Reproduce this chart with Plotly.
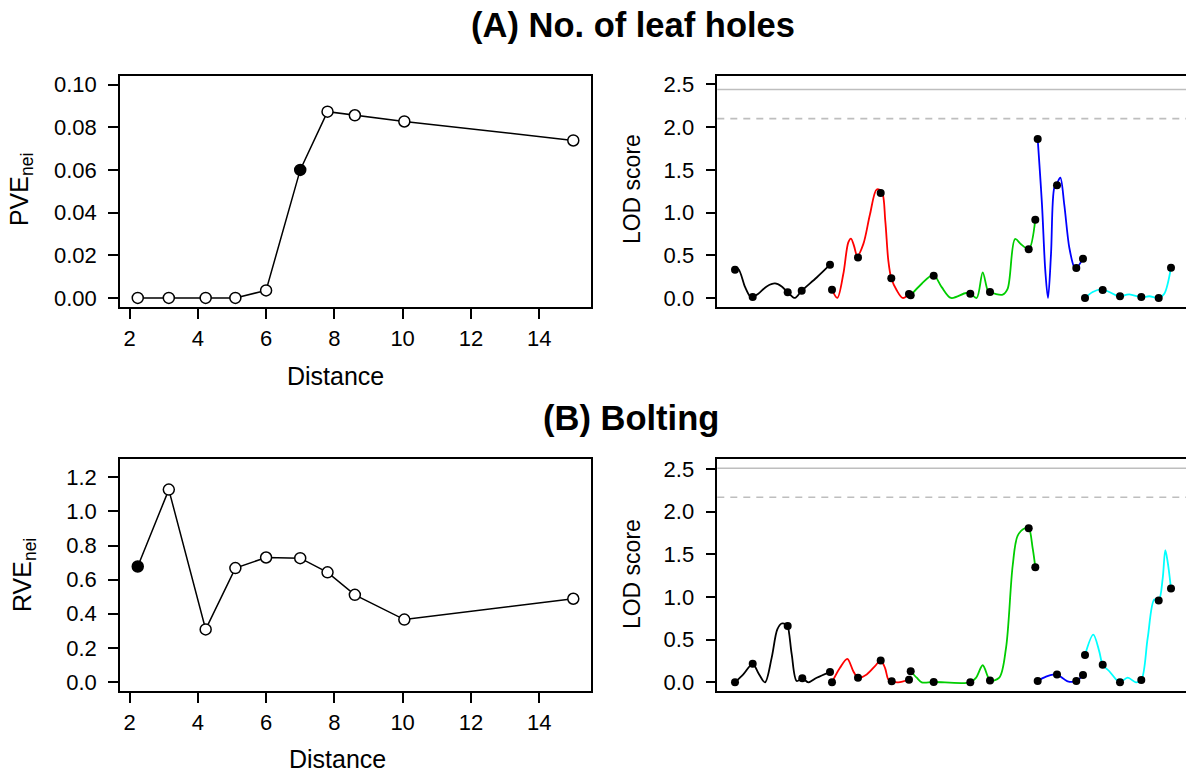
import plotly.graph_objects as go

# ---------------- data ----------------
# Panel A left: PVE_nei vs distance
dist_a = [2.24, 3.15, 4.23, 5.10, 6.00, 7.00, 7.80, 8.60, 10.05, 15.00]
pve_a = [0.0, 0.0, 0.0, 0.0, 0.0035, 0.060, 0.0873, 0.0856, 0.0827, 0.0738]
sel_a = 5  # index of highlighted (filled) point

# Panel B left: RVE_nei vs distance
dist_b = [2.24, 3.15, 4.23, 5.10, 6.00, 7.00, 7.80, 8.60, 10.05, 15.00]
rve_b = [0.677, 1.128, 0.308, 0.668, 0.730, 0.726, 0.643, 0.511, 0.366, 0.488]
sel_b = 0

chrom_colors = ["#000000", "#FF0000", "#00CD00", "#0000FF", "#00FFFF"]

# Panel A right: LOD profile per chromosome (positions along genome, LOD)
a_curve_pos = [
    [18, 21.3, 28, 33, 35.7, 41.3, 49.7, 58, 64.7, 70.7, 78, 84.7, 99.7, 113],
    [115, 120.3, 126.3, 131.3, 134, 137, 140.3, 146.3, 153, 159.7, 164.7, 168.3, 171.3, 174.3, 179.7, 185.7, 192],
    [193.7, 204.7, 216.3, 224.7, 234, 249, 253.3, 259.7, 265.7, 270.7, 273, 285.7, 290.7, 298, 304, 311.7, 318.3],
    [320.7, 325, 328.3, 331, 334, 337.3, 340, 343.3, 347.3, 352.3, 357.3, 359.3, 366],
    [368, 375.7, 384.7, 392.3, 400.7, 403, 412.3, 424.3, 432.3, 441.7, 447.3, 454],
]
a_curve_lod = [
    [0.33, 0.34, 0.13, 0.02, 0.01, 0.05, 0.135, 0.17, 0.135, 0.066, 0.0, 0.085, 0.24, 0.39],
    [0.097, 0.0, 0.28, 0.65, 0.695, 0.61, 0.49, 0.63, 0.98, 1.27, 1.25, 0.90, 0.44, 0.23, 0.09, 0.0, 0.046],
    [0.03, 0.166, 0.27, 0.127, 0.0, 0.058, 0.05, 0.0, 0.30, 0.09, 0.07, 0.04, 0.11, 0.69, 0.63, 0.57, 0.92],
    [1.86, 1.09, 0.32, 0.0, 0.51, 1.29, 1.34, 1.41, 1.09, 0.59, 0.36, 0.35, 0.46],
    [0.0, 0.07, 0.10, 0.07, 0.023, 0.02, 0.042, 0.008, 0.02, 0.0, 0.05, 0.355],
]
a_marker_pos = [18, 35.7, 70.7, 84.7, 113, 115, 141, 163.7, 174.3, 192,
                193.7, 216.7, 253.3, 273, 311.7, 318.3, 320.7, 340, 359.3, 366,
                368, 385.7, 403, 424.3, 441.7, 454]
a_marker_lod = [0.33, 0.01, 0.066, 0.085, 0.39, 0.097, 0.475, 1.23, 0.23, 0.046,
                0.031, 0.26, 0.05, 0.07, 0.57, 0.915, 1.86, 1.32, 0.35, 0.46,
                0.0, 0.093, 0.02, 0.01, 0.0, 0.355]
a_thresh_solid = 2.44
a_thresh_dash = 2.10

# Panel B right
b_curve_pos = [
    [18, 26.3, 35.7, 41.3, 48, 54.7, 60.3, 64.7, 69, 70.7, 74.7, 79.7, 85.3, 91.3, 99.7, 113],
    [115, 123, 130.3, 136.3, 141, 149.7, 158, 163.7, 168, 171.3, 174.7, 181.3, 192],
    [193.7, 199.7, 204.7, 216.7, 253.3, 259, 265.7, 270.7, 273, 282.3, 289, 295.7, 300.7, 308.3, 311.7, 315.7, 318.3],
    [320.7, 329, 337.3, 340, 350.7, 359.3, 366],
    [368, 376.3, 382.3, 385.7, 392.3, 399, 403, 410.7, 419, 424.3, 430.7, 437.3, 441.7, 445.7, 448.3, 450.7, 454],
]
b_curve_lod = [
    [0.0, 0.093, 0.217, 0.11, 0.0, 0.29, 0.62, 0.69, 0.68, 0.66, 0.33, 0.016, 0.047, 0.0, 0.054, 0.12],
    [0.0, 0.17, 0.275, 0.13, 0.054, 0.093, 0.19, 0.256, 0.17, 0.035, 0.012, 0.0, 0.03],
    [0.13, 0.054, 0.0, 0.004, 0.0, 0.054, 0.2, 0.07, 0.02, 0.054, 0.40, 1.37, 1.72, 1.81, 1.81, 1.57, 1.35],
    [0.016, 0.066, 0.093, 0.093, 0.012, 0.016, 0.085],
    [0.32, 0.56, 0.36, 0.205, 0.13, 0.035, 0.0, 0.054, 0.0, 0.027, 0.52, 0.97, 0.96, 1.22, 1.55, 1.41, 1.10],
]
b_marker_pos = [18, 35.7, 70.7, 85.3, 113, 115, 141, 163.7, 174.7, 192,
                193.7, 216.7, 253.3, 273, 311.7, 318.3, 320.7, 340, 359.3, 366,
                368, 385.7, 403, 424.3, 441.7, 454]
b_marker_lod = [0.0, 0.217, 0.66, 0.047, 0.12, 0.0, 0.054, 0.256, 0.012, 0.03,
                0.13, 0.004, 0.0, 0.02, 1.806, 1.35, 0.016, 0.093, 0.016, 0.085,
                0.32, 0.205, 0.0, 0.027, 0.96, 1.10]
b_thresh_solid = 2.51
b_thresh_dash = 2.17

pve_ticks = [0.0, 0.02, 0.04, 0.06, 0.08, 0.10]
pve_ticklabels = ["0.00", "0.02", "0.04", "0.06", "0.08", "0.10"]
rve_ticks = [0.0, 0.2, 0.4, 0.6, 0.8, 1.0, 1.2]
rve_ticklabels = ["0.0", "0.2", "0.4", "0.6", "0.8", "1.0", "1.2"]
lod_ticks = [0.0, 0.5, 1.0, 1.5, 2.0, 2.5]
lod_ticklabels = ["0.0", "0.5", "1.0", "1.5", "2.0", "2.5"]
dist_ticks = [2, 4, 6, 8, 10, 12, 14]

# ---------------- figure ----------------
W, H = 1186, 776
FONT = "Liberation Sans, Arial, Helvetica, sans-serif"
fig = go.Figure()


def px_x(p):
    return p / W


def px_y(p):
    return 1 - p / H


def left_panel(x, y, sel, xa, ya):
    fig.add_trace(go.Scatter(x=x, y=y, mode="lines", line=dict(color="black", width=1.5),
                             xaxis=xa, yaxis=ya, showlegend=False, hoverinfo="skip"))
    ox = [v for i, v in enumerate(x) if i != sel]
    oy = [v for i, v in enumerate(y) if i != sel]
    fig.add_trace(go.Scatter(x=ox, y=oy, mode="markers",
                             marker=dict(symbol="circle", size=11, color="white",
                                         line=dict(color="black", width=1.5)),
                             xaxis=xa, yaxis=ya, showlegend=False))
    fig.add_trace(go.Scatter(x=[x[sel]], y=[y[sel]], mode="markers",
                             marker=dict(symbol="circle", size=11, color="black",
                                         line=dict(color="black", width=1.5)),
                             xaxis=xa, yaxis=ya, showlegend=False))


def right_panel(cpos, clod, mpos, mlod, xa, ya):
    for c in range(len(cpos)):
        fig.add_trace(go.Scatter(x=cpos[c], y=clod[c], mode="lines",
                                 line=dict(color=chrom_colors[c], width=1.8, shape="spline", smoothing=0.9),
                                 xaxis=xa, yaxis=ya, showlegend=False, hoverinfo="skip"))
    fig.add_trace(go.Scatter(x=mpos, y=mlod, mode="markers",
                             marker=dict(symbol="circle", size=8, color="black"),
                             xaxis=xa, yaxis=ya, showlegend=False))


left_panel(dist_a, pve_a, sel_a, "x", "y")
right_panel(a_curve_pos, a_curve_lod, a_marker_pos, a_marker_lod, "x2", "y2")
left_panel(dist_b, rve_b, sel_b, "x3", "y3")
right_panel(b_curve_pos, b_curve_lod, b_marker_pos, b_marker_lod, "x4", "y4")

# threshold lines
for ref, ys, yd in (("2", a_thresh_solid, a_thresh_dash), ("4", b_thresh_solid, b_thresh_dash)):
    fig.add_shape(type="line", xref="x%s domain" % ref, yref="y" + ref, x0=0, x1=1, y0=ys, y1=ys,
                  line=dict(color="#bebebe", width=1.6), layer="below")
    fig.add_shape(type="line", xref="x%s domain" % ref, yref="y" + ref, x0=0, x1=1, y0=yd, y1=yd,
                  line=dict(color="#bebebe", width=1.6, dash="7px,6px"), layer="below")

# domains (px)
L_X = (120, 590.7)
R_X = (717.3, 1186)
TOP_Y = (73, 306)
BOT_Y = (460, 694)

tickfont = dict(family=FONT, size=22, color="black")
common_x = dict(showline=True, mirror=True, linecolor="black", linewidth=1.5,
                ticks="outside", ticklen=10, tickwidth=1.5, tickcolor="black",
                showgrid=False, zeroline=False, tickfont=tickfont, ticklabelstandoff=1)
common_y = dict(showline=True, mirror=True, linecolor="black", linewidth=1.5,
                ticks="outside", ticklen=10, tickwidth=1.5, tickcolor="black",
                showgrid=False, zeroline=False, tickfont=tickfont, ticklabelstandoff=7)

lx_range = [1.72, 15.51]
lod_x_range = [0.3, 469]

fig.update_layout(
    width=W, height=H,
    margin=dict(l=0, r=0, t=0, b=0),
    paper_bgcolor="white", plot_bgcolor="white",
    font=dict(family=FONT, color="black"),
    xaxis=dict(domain=[px_x(L_X[0]), px_x(L_X[1])], anchor="y", range=lx_range,
               tickvals=dist_ticks, **common_x),
    yaxis=dict(domain=[px_y(TOP_Y[1]), px_y(TOP_Y[0])], anchor="x", range=[-0.0042, 0.1039],
               tickvals=pve_ticks, ticktext=pve_ticklabels, **common_y),
    xaxis2=dict(domain=[px_x(R_X[0]), 1.0], anchor="y2", range=lod_x_range,
                showline=True, mirror=True, linecolor="black", linewidth=1.5,
                showticklabels=False, ticks="", showgrid=False, zeroline=False),
    yaxis2=dict(domain=[px_y(TOP_Y[1]), px_y(TOP_Y[0])], anchor="x2", range=[-0.104, 2.596],
                tickvals=lod_ticks, ticktext=lod_ticklabels,
                **{**common_y, "mirror": False}),
    xaxis3=dict(domain=[px_x(L_X[0]), px_x(L_X[1])], anchor="y3", range=lx_range,
                tickvals=dist_ticks, **common_x),
    yaxis3=dict(domain=[px_y(BOT_Y[1]), px_y(BOT_Y[0])], anchor="x3", range=[-0.052, 1.306],
                tickvals=rve_ticks, ticktext=rve_ticklabels, **common_y),
    xaxis4=dict(domain=[px_x(R_X[0]), 1.0], anchor="y4", range=lod_x_range,
                showline=True, mirror=True, linecolor="black", linewidth=1.5,
                showticklabels=False, ticks="", showgrid=False, zeroline=False),
    yaxis4=dict(domain=[px_y(BOT_Y[1]), px_y(BOT_Y[0])], anchor="x4", range=[-0.1, 2.616],
                tickvals=lod_ticks, ticktext=lod_ticklabels,
                **{**common_y, "mirror": False}),
)

titlefont = dict(family=FONT, size=34.5, color="black")
labfont = dict(family=FONT, size=25, color="black")
lodfont = dict(family=FONT, size=23, color="black")
ann = [
    dict(text="<b>(A) No. of leaf holes</b>", x=px_x(633), y=px_y(21), font=titlefont),
    dict(text="<b>(B) Bolting</b>", x=px_x(631), y=px_y(418), font=titlefont),
    dict(text="Distance", x=px_x(335), y=px_y(376), font=labfont),
    dict(text="Distance", x=px_x(337), y=px_y(763), font=labfont),
    dict(text="PVE<sub>nei</sub>", x=px_x(21), y=px_y(188), font=labfont, textangle=-90),
    dict(text="RVE<sub>nei</sub>", x=px_x(24), y=px_y(577), font=labfont, textangle=-90),
    dict(text="LOD score", x=px_x(632), y=px_y(187), font=lodfont, textangle=-90),
    dict(text="LOD score", x=px_x(632), y=px_y(576), font=lodfont, textangle=-90),
]
for a in ann:
    fig.add_annotation(xref="paper", yref="paper", showarrow=False,
                       xanchor="center", yanchor="middle", **a)

fig.write_html("out.html")
